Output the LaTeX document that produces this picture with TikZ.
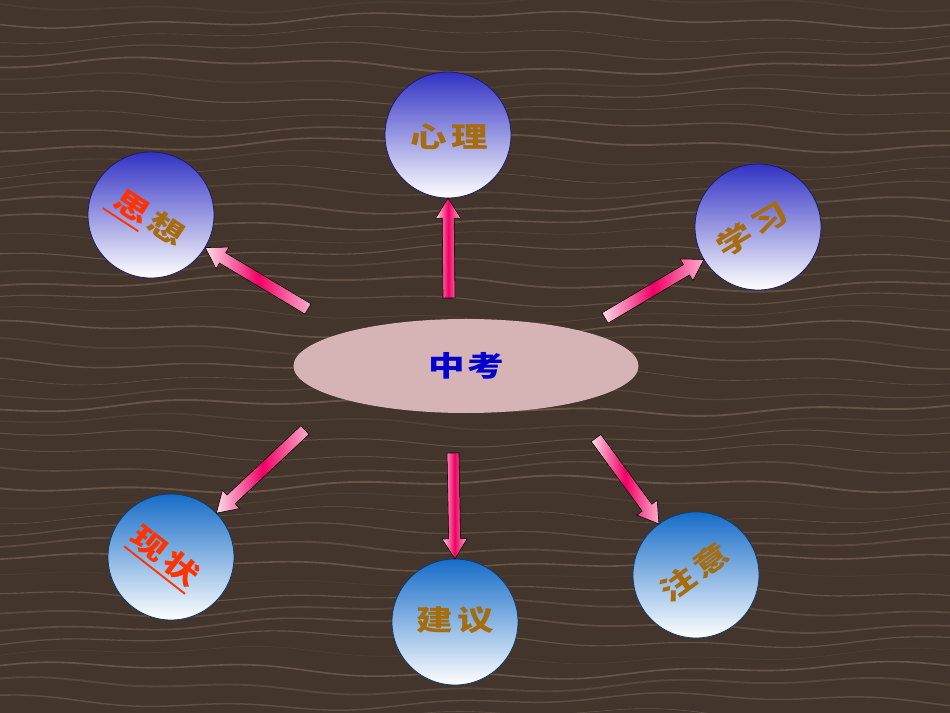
\documentclass[tikz,border=0pt]{standalone}
\usepackage{fontspec}
\usetikzlibrary{shapes.geometric,shapes.arrows,calc}
\newfontfamily\cjk[FakeStretch=1.3]{Noto Sans CJK SC}
\newcommand\redline[1]{\setbox0\hbox{#1}\rlap{\raisebox{-0.3em}{\rule{\wd0}{1.6pt}}}\box0}

\definecolor{wood}{RGB}{68,53,44}
\definecolor{grain}{RGB}{160,138,114}
\definecolor{topic}{RGB}{166,108,14}
\definecolor{mark}{RGB}{255,51,0}
\definecolor{violetball}{RGB}{50,50,196}
\definecolor{blueball}{RGB}{22,108,200}
\definecolor{egg}{RGB}{214,180,182}
\definecolor{hot}{RGB}{240,0,100}
\definecolor{soft}{RGB}{255,220,232}

\tikzset{
  ball/.style={circle, minimum size=3.78cm, inner sep=0pt, outer sep=0pt,
    draw=#1!55!black, line width=0.7pt, top color=#1, bottom color=white},
  word/.style={font=\cjk\bfseries\fontsize{24}{24}\selectfont, text=topic},
  pipe/.style={single arrow, draw=black, line width=0.5pt, outer sep=0pt,
    inner xsep=0pt, inner ysep=0.17cm, single arrow head extend=0.2cm,
    single arrow tip angle=64, left color=soft, right color=soft!80!hot,
    middle color=hot},
}

\begin{document}
\begin{tikzpicture}[x=0.03cm, y=-0.03cm]
\useasboundingbox (0,0) rectangle (950,713);
\fill[wood] (0,0) rectangle (950,713);
% wood grain
\foreach \k in {0,...,46}
  \draw[grain, opacity={0.08 + 0.3*abs(sin(\k*73))}, line width={0.4 + 1.2*abs(cos(\k*41))}]
    plot[domain=0:950, samples=50, smooth]
    (\x, {\k*15.5 + 4 + 6*sin(\x*0.45 + \k*47) + 3*sin(\x*1.7 + \k*13)});

% centre
\node[ellipse, fill=egg, minimum width=10.35cm, minimum height=2.82cm,
  font=\cjk\bfseries\fontsize{24}{24}\selectfont, text={rgb,255:red,0;green,0;blue,204}]
  (zk) at (466,366) {中\hspace{0.1em}考};

% topics
\node[ball=violetball] (si) at (151,215) {};
\node[ball=violetball] (xl) at (448,135) {};
\node[ball=violetball] (xx) at (758,227) {};
\node[ball=blueball] (xz) at (171,557) {};
\node[ball=blueball] (jy) at (455,622) {};
\node[ball=blueball] (zy) at (696,575) {};

\node[word, rotate=-33] (si-t) at (146,218) {\textcolor{mark}{\redline{\hspace{0.2em}思}}\hspace{0.15em}想};
\node[word] (xl-t) at (449,137) {心\hspace{0.15em}理};
\node[word, rotate=31] (xx-t) at (752,229) {学\hspace{0.15em}习};
\node[word, rotate=-38, text=mark] (xz-t) at (164,558) {\redline{现\hspace{0.15em}状}};
\node[word] (jy-t) at (455,620) {建\hspace{0.15em}议};
\node[word, rotate=36] (zy-t) at (694,572) {注\hspace{0.15em}意};

% arrow tails
\coordinate (a1) at (308,309);
\coordinate (a2) at (449,298);
\coordinate (a3) at (605,318);
\coordinate (a4) at (305,430);
\coordinate (a5) at (453,453);
\coordinate (a6) at (596,438);

\foreach \s/\t in {a1/si.-31, a2/xl.-90, a3/xx.-149, a4/xz.44, a5/jy.90, a6/zy.126}
  \path let \p1=($(\t)-(\s)$), \n1={atan2(\y1,\x1)}, \n2={veclen(\x1,\y1)} in
    node[pipe, anchor=tail, rotate=\n1, minimum height=\n2] at (\s) {};
\end{tikzpicture}
\end{document}
